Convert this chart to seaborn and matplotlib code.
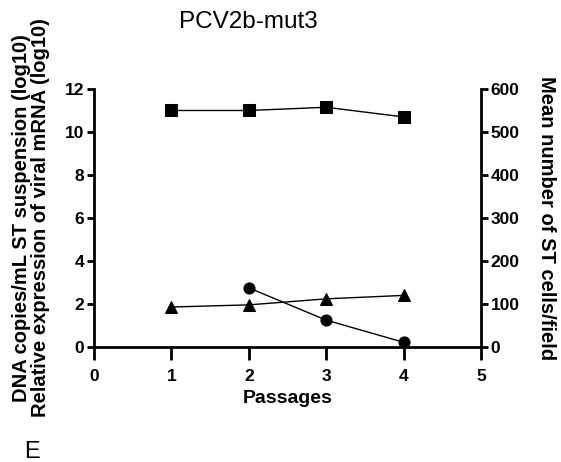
import matplotlib
matplotlib.use("Agg")
import matplotlib.pyplot as plt
import seaborn as sns

# =====================================================
# DATA
# =====================================================
passages = [1, 2, 3, 4]
dna_copies = [11.0, 11.0, 11.15, 10.7]          # squares, left axis
mrna_passages = [2, 3, 4]
mrna_expr = [2.75, 1.25, 0.22]                  # circles, left axis
cells_field = [93, 98, 112, 120]                # triangles, right axis

# =====================================================
# STYLE
# =====================================================
sns.set_style("ticks")
plt.rcParams["font.family"] = ["Liberation Sans", "DejaVu Sans"]
for key in ["text.color", "axes.labelcolor", "xtick.color", "ytick.color", "axes.edgecolor"]:
    plt.rcParams[key] = "black"

fig = plt.figure(figsize=(5.61, 4.62), dpi=100)
ax = fig.add_axes([0.1676, 0.2489, 0.6898, 0.5585])
ax2 = ax.twinx()

# =====================================================
# PLOT
# =====================================================
sns.lineplot(x=passages, y=dna_copies, ax=ax, color="black", marker="s",
             markersize=9, linewidth=1, markeredgecolor="black")
sns.lineplot(x=mrna_passages, y=mrna_expr, ax=ax, color="black", marker="o",
             markersize=8, linewidth=1, markeredgecolor="black")
sns.lineplot(x=passages, y=cells_field, ax=ax2, color="black", marker="^",
             markersize=9, linewidth=1, markeredgecolor="black")

ax.set_xlim(0, 5)
ax.set_ylim(0, 12)
ax2.set_ylim(0, 600)
ax.set_xticks([0, 1, 2, 3, 4, 5])
ax.set_yticks([0, 2, 4, 6, 8, 10, 12])
ax2.set_yticks([0, 100, 200, 300, 400, 500, 600])

for a in (ax, ax2):
    a.spines["top"].set_visible(False)
    for s in a.spines.values():
        s.set_linewidth(2)
    a.tick_params(width=2, length=5, labelsize=12.5, pad=2)
    for lbl in a.get_xticklabels() + a.get_yticklabels():
        lbl.set_fontweight("bold")
ax.spines["right"].set_visible(False)
ax2.spines["left"].set_visible(False)
ax2.spines["bottom"].set_visible(False)
ax.tick_params(axis="x", length=9, pad=7)

ax.set_xlabel("Passages", fontsize=14, fontweight="bold", labelpad=4)
ax.set_ylabel("DNA copies/mL ST suspension (log10)\nRelative expression of viral mRNA (log10)",
              fontsize=14.5, fontweight="bold", labelpad=11, linespacing=1.0)
ax2.set_ylabel("Mean number of ST cells/field", fontsize=14.5, fontweight="bold",
               rotation=270, labelpad=26)

fig.text(0.443, 0.952, "PCV2b-mut3", fontsize=17.5, ha="center", va="center")
fig.text(0.057, 0.022, "E", fontsize=17, ha="center", va="center")

plt.savefig("out.png", dpi=100)
plt.close()
